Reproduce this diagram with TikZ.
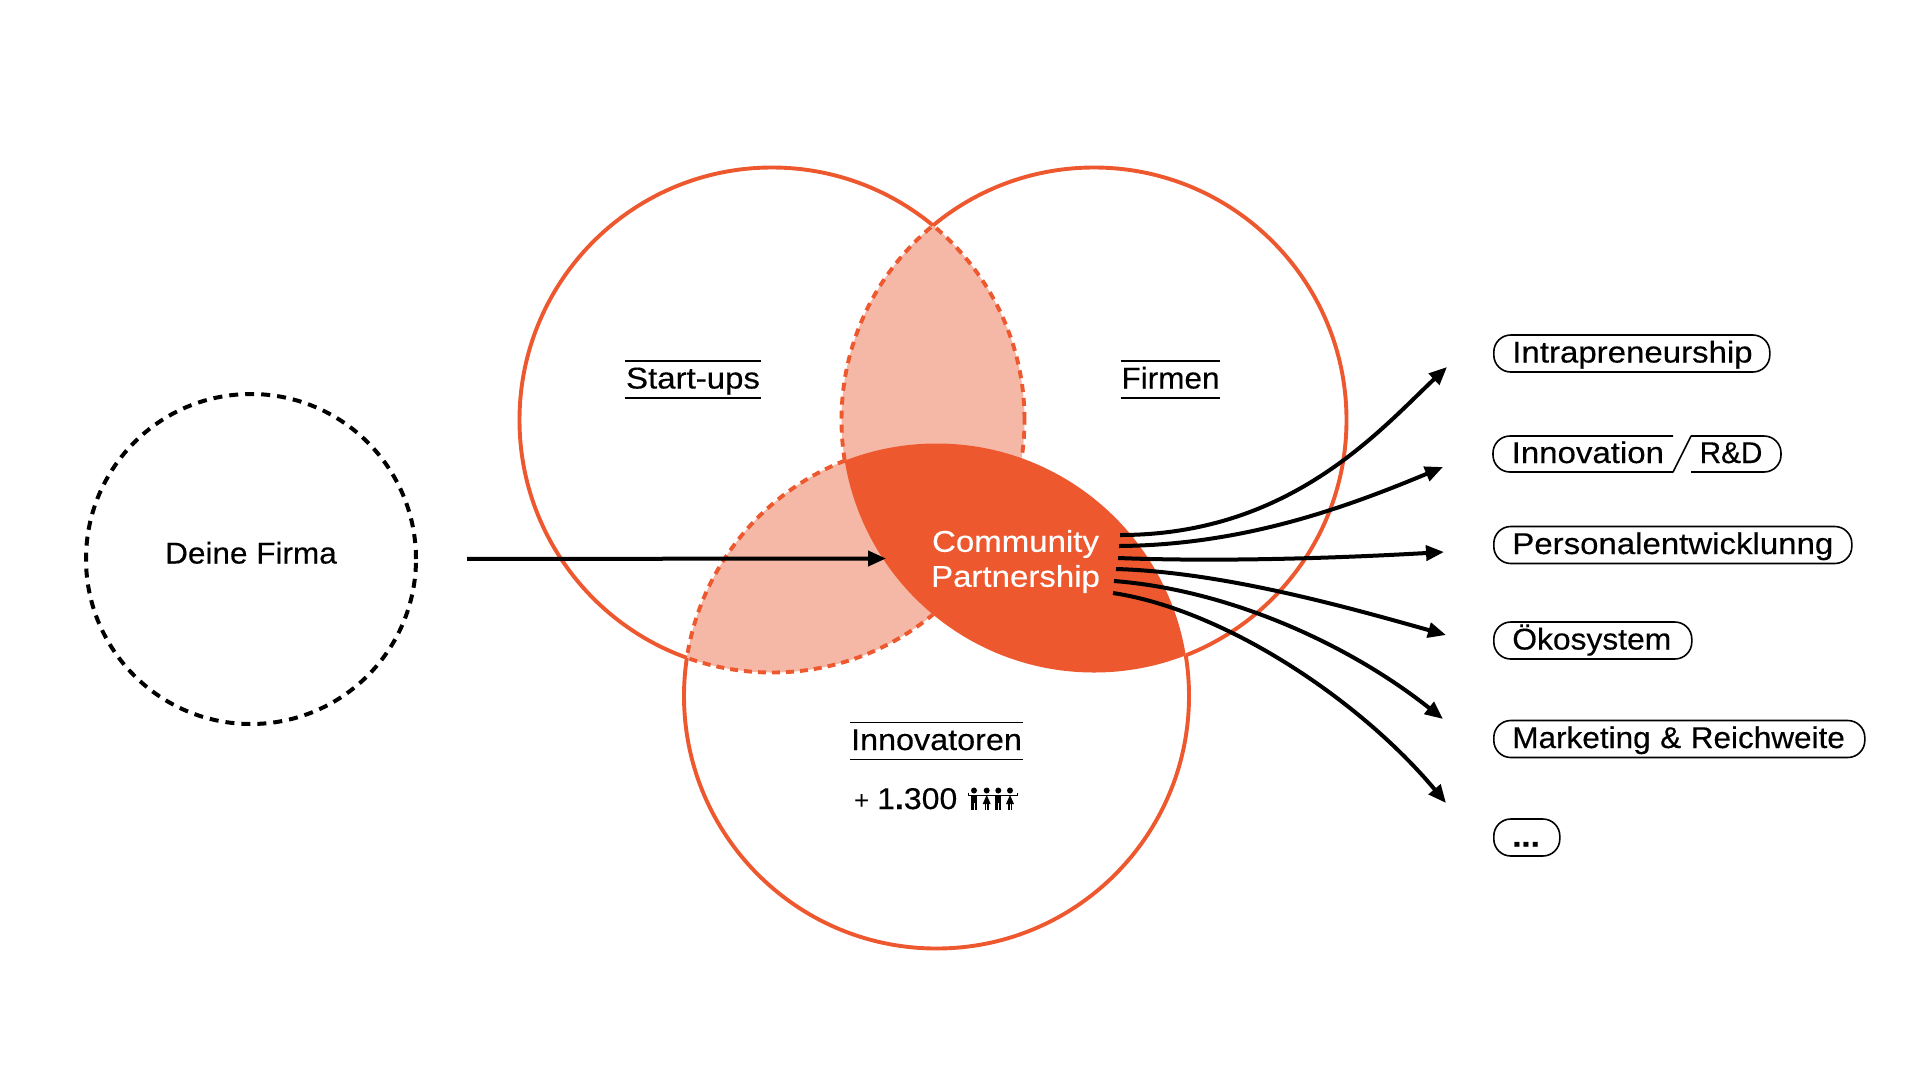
\documentclass[tikz,border=0pt]{standalone}
\usepackage{graphicx}
\usepackage{fontspec}
\setmainfont[FakeStretch=1.10,FakeBold=0.35]{Liberation Sans}
\newfontfamily\plainsans{Liberation Sans}
\usetikzlibrary{arrows.meta}
\definecolor{venn}{HTML}{EE582F}
\definecolor{vennlight}{HTML}{F6B8A6}
\newcommand{\squeeze}[2]{\scalebox{#1}[1]{#2}}
\tikzset{
  x=1pt,y=-1pt,
  vennline/.style={draw=venn,line width=3.9pt},
  venndash/.style={draw=venn,line width=3.9pt,dash pattern=on 8pt off 6pt},
  flow/.style={draw=black,line width=4pt,-{Triangle[length=18pt,width=15pt]}},
  pilltext/.style={font=\fontsize{30}{35}\selectfont,inner sep=0pt,anchor=base west},
  rulelabel/.style={font=\fontsize{30}{35}\selectfont,inner sep=0pt,minimum height=37pt,text height=24pt,text depth=6pt},
  rulestroke/.style={draw=black,line width=1.5pt},
  pill/.style={draw=black,line width=1.6pt,rounded corners=17pt,anchor=west,inner xsep=18.5pt,inner ysep=0pt,minimum height=37pt,
    font=\fontsize{30}{35}\selectfont,align=left,text height=24pt,text depth=6pt},
}
\newcommand{\SC}{(772,420) circle (252.5pt)}
\newcommand{\FC}{(1094,420) circle (252.5pt)}
\newcommand{\IC}{(936.5,696) circle (252.5pt)}
\newcommand{\WHOLE}{(0,0) rectangle (1920,1080)}
\begin{document}
\begin{tikzpicture}
\useasboundingbox (0,0) rectangle (1920,1080);
\fill[white] \WHOLE;
% light overlaps
\begin{scope}\clip \SC; \fill[vennlight] \FC; \fill[vennlight] \IC; \end{scope}
% dashed boundaries of the light regions
\begin{scope}[even odd rule]\clip \FC; \clip \WHOLE \IC; \draw[venndash] \SC; \end{scope}
\begin{scope}[even odd rule]\clip \IC; \clip \WHOLE \FC; \draw[venndash] \SC; \end{scope}
\begin{scope}[even odd rule]\clip \SC; \clip \WHOLE \IC; \draw[venndash] \FC; \end{scope}
\begin{scope}[even odd rule]\clip \SC; \clip \WHOLE \FC; \draw[venndash] \IC; \end{scope}
% dark core
\begin{scope}\clip \FC; \fill[venn] \IC; \end{scope}
% solid outer arcs
\begin{scope}[even odd rule]
  \clip \WHOLE \FC;
  \clip \WHOLE \IC;
  \draw[vennline] \SC;
\end{scope}
\begin{scope}[even odd rule]
  \clip \WHOLE \SC;
  \clip \WHOLE \IC;
  \draw[vennline] \FC;
\end{scope}
\begin{scope}[even odd rule]
  \clip \WHOLE \SC;
  \clip \WHOLE \FC;
  \draw[vennline] \IC;
\end{scope}
% Deine Firma
\node[circle,draw=black,line width=4pt,dash pattern=on 9pt off 7pt,minimum size=330pt,inner sep=0pt,
  font=\fontsize{30}{35}\selectfont,text height=21.5pt,text depth=12.5pt] (firma) at (251,559) {\squeeze{0.955}{Deine Firma}};
% labels
\node[rulelabel,minimum width=136pt] (startups) at (693,379.5) {Start-ups};
\node[rulelabel,minimum width=99pt] (firmen) at (1170.5,379.5) {\squeeze{0.955}{Firmen}};
\node[rulelabel,minimum width=173pt] (innov) at (936.5,741) {\squeeze{0.98}{Innovatoren}};
\foreach \n in {startups,firmen,innov}{
  \draw[rulestroke] (\n.north west) -- (\n.north east);
  \draw[rulestroke] (\n.south west) -- (\n.south east);
}
\node[font=\fontsize{26}{28}\plainsans\selectfont,inner sep=0pt,anchor=base west] (plus) at (854,809) {+};
\node[pilltext] (count) at (877,809) {\squeeze{0.97}{1{\bfseries .}300}};
% people icon
\draw[black,line width=1.6pt] (968.5,792.5) -- (968.5,795.5) -- (1017.5,795.5) -- (1017.5,792.5);
\foreach \hx in {974,986.7,998.3,1010}{\fill[black] (\hx,790.5) circle (3pt);}
\foreach \hx in {974,998.3}{
  \fill[black] (\hx-3,795) rectangle (\hx+3,803);
  \fill[black] (\hx-3,803) rectangle (\hx-0.5,809.5);
  \fill[black] (\hx+0.5,803) rectangle (\hx+3,809.5);
}
\foreach \hx in {986.7,1010}{
  \fill[black] (\hx,795) -- (\hx+4,804) -- (\hx-4,804) -- cycle;
  \fill[black] (\hx-2,804) rectangle (\hx-0.5,809.5);
  \fill[black] (\hx+0.5,804) rectangle (\hx+2,809.5);
}
% core label
\node[font=\fontsize{30}{35}\selectfont,text=white,align=center,inner sep=0pt] (core) at (1015.5,561.5) {Community\\Partnership};
% main arrow
\coordinate (mainend) at (886,558.5);
\draw[flow,shorten <=49pt] (firma.east) -- (mainend);
% fan
\coordinate (o1) at (1120,535); \coordinate (e1) at (1447,367);
\coordinate (o2) at (1119,546); \coordinate (e2) at (1443,467);
\coordinate (o3) at (1118,558); \coordinate (e3) at (1444,552);
\coordinate (o4) at (1116,569); \coordinate (e4) at (1446,635);
\coordinate (o5) at (1114,581); \coordinate (e5) at (1443,719);
\coordinate (o6) at (1113,593); \coordinate (e6) at (1446,803);
\draw[flow] (o1) .. controls (1290,535) and (1380,430) .. (e1);
\draw[flow] (o2) .. controls (1240,545) and (1340,510) .. (e2);
\draw[flow] (o3) .. controls (1220,562) and (1340,558) .. (e3);
\draw[flow] (o4) .. controls (1220,572) and (1340,605) .. (e4);
\draw[flow] (o5) .. controls (1230,590) and (1350,645) .. (e5);
\draw[flow] (o6) .. controls (1225,610) and (1360,700) .. (e6);
% pills
\node[pill,text width=239pt] (p1) at (1493,353.5) {\mbox{Intrapreneurship}};
\node[pilltext] (p2a) at (1511.5,463) {Innovation};
\node[pilltext] (p2b) at (1699.5,463) {\squeeze{0.9}{R\&D}};
\coordinate (g1) at (1673,436); \coordinate (g2) at (1673,472);
\coordinate (g3) at (1691,436); \coordinate (g4) at (1691,472);
\draw[black,line width=1.6pt,rounded corners=17pt] (g1) -- (1493,436) -- (1493,472) -- (g2);
\draw[black,line width=1.6pt,line cap=round] (g2) -- (g3);
\draw[black,line width=1.6pt,rounded corners=17pt] (g3) -- (1781,436) -- (1781,472) -- (g4);
\node[pill,text width=321pt] (p3) at (1493,545) {\mbox{Personalentwicklunng}};
\node[pill,text width=161pt] (p4) at (1493,640.5) {\squeeze{0.963}{Ökosystem}};
\node[pill,text width=334pt] (p5) at (1493,739) {\squeeze{0.955}{Marketing \& Reichweite}};
\node[pill,text width=29pt] (p6) at (1493,837.5) {\mbox{\textbf{...}}};
\end{tikzpicture}
\end{document}
